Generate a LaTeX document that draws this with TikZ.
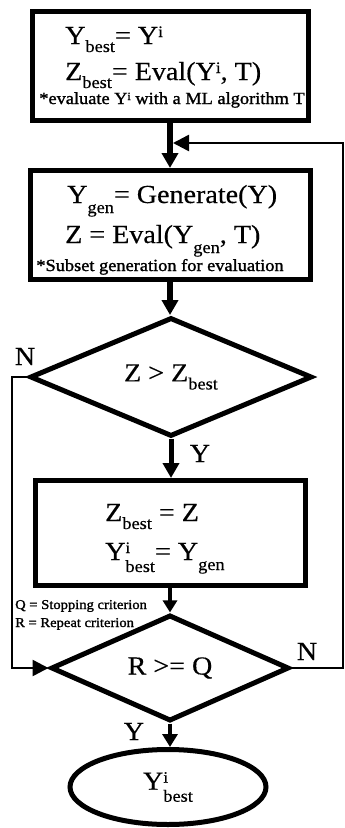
\documentclass[tikz,border=0pt]{standalone}
\usepackage{fontspec}
\setmainfont{Liberation Serif}[FakeStretch=1.08, FakeBold=0.4]
\newfontfamily\heavyfont{Liberation Serif}[FakeStretch=1.08, FakeBold=1.4]
\usetikzlibrary{arrows.meta,shapes.geometric}
\newcommand{\sbx}[2][8pt]{\raisebox{-#1}{\fontsize{17}{17}\selectfont #2}}
\newcommand{\spx}[1]{\raisebox{7pt}{\fontsize{16}{16}\selectfont #1}}
\newcommand{\spsb}[2]{\rlap{\spx{#1}}\sbx[12pt]{#2}}
\begin{document}
\begin{tikzpicture}[x=1pt,y=-1pt,
  box/.style={draw, line width=5pt, rectangle, inner sep=0pt},
  dec/.style={draw, diamond, line width=5pt, inner sep=0pt, font=\fontsize{26}{30}\selectfont},
  term/.style={draw, ellipse, line width=5pt, inner sep=0pt, font=\fontsize{26}{30}\selectfont},
  main/.style={inner sep=0pt, anchor=base west, font=\fontsize{26}{30}\selectfont},
  note/.style={inner sep=0pt, anchor=base, font=\heavyfont\fontsize{17}{20}\selectfont},
  crit/.style={inner sep=0pt, anchor=base west, font=\heavyfont\fontsize{13.5}{16}\selectfont},
  lbl/.style={inner sep=0pt, anchor=base, font=\fontsize{26}{30}\selectfont},
  flow/.style={line width=#1, -{Triangle[length=15pt,width=16pt]}},
  fb/.style={line width=2.5pt, -{Triangle[length=16pt,width=16pt]}}
]
\useasboundingbox (0,0) rectangle (345,828);

% boxes
\node[box, minimum width=276pt, minimum height=109pt] (b1) at (170,66) {};
\node[box, minimum width=280pt, minimum height=109pt] (b2) at (170,225) {};
\node[box, minimum width=270pt, minimum height=105pt] (b3) at (170,533) {};
\node[dec, minimum width=282pt, minimum height=108pt] (d1) at (171,377) {Z > Z\sbx{best}};
\node[dec, minimum width=238pt, minimum height=96pt] (d2) at (170,668) {R >= Q};
\node[term, minimum width=196pt, minimum height=75pt] (e) at (168,787) {Y\spsb{i}{best}};

% box texts
\node[main] (t11) at (65,44) {Y\sbx{best}= Y\spx{i}};
\node[main] (t12) at (65,80) {Z\sbx{best}= Eval(Y\spx{i}, T)};
\node[note] (t13) at (172,104) {*evaluate Y\raisebox{4pt}{\fontsize{11}{11}\selectfont i} with a ML algorithm T};
\node[main] (t21) at (67,203) {Y\sbx[10pt]{gen}= Generate(Y)};
\node[main] (t22) at (65,243) {Z = Eval(Y\sbx[10pt]{gen}, T)};
\node[note] (t23) at (160,271) {*Subset generation for evaluation};
\node[main] (t31) at (105,521) {Z\sbx{best} = Z};
\node[main] (t32) at (105,560) {Y\spsb{i}{best}= Y\sbx[10pt]{gen}};

% criteria
\node[crit] (q) at (15,609) {Q = Stopping criterion};
\node[crit] (r) at (15,627) {R = Repeat criterion};

% labels
\node[lbl] (n1) at (25,365) {N};
\node[lbl] (y1) at (200,462) {Y};
\node[lbl] (n2) at (307,660) {N};
\node[lbl] (y2) at (134,740) {Y};

% helper coordinates
\coordinate (join) at (173,143);
\coordinate (rtop) at (343,143);
\coordinate (lc) at (12,377);

% main flow
\draw[flow=6pt] (b1.south) -- (b2.north);
\draw[flow=5.5pt] (b2.south) -- (b2.south |- d1.north);
\draw[flow=5pt] (d1.south) -- (d1.south |- b3.north);
\draw[line width=4pt, -{Triangle[length=12pt,width=14pt]}] (b3.south) -- (b3.south |- d2.north);
\draw[line width=4pt, -{Triangle[length=13pt,width=15pt]}] (d2.south) -- (d2.south |- e.north);

% feedback
\draw[fb] (d2.east) -| (rtop) -- (join);
\draw[fb] (d1.west) -- (lc) |- (d2.west);
\end{tikzpicture}
\end{document}
